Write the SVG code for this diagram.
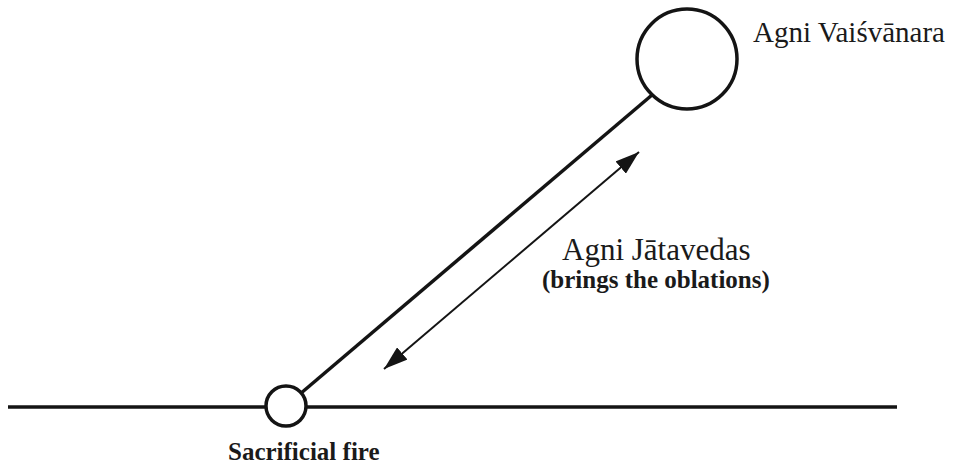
<svg xmlns="http://www.w3.org/2000/svg" width="978" height="466" viewBox="0 0 978 466">
  <style>
    .ln { stroke: #141414; fill: none; stroke-linecap: butt; }
    .node { fill: #ffffff; stroke: #141414; stroke-width: 3.5; }
    .lbl { font-family: "Liberation Serif", "Times New Roman", serif; fill: #1a1a1a; }
    .big { font-size: 29px; }
    .mid { font-size: 31px; }
    .small { font-size: 25px; font-weight: bold; }
  </style>
  <defs>
    <marker id="ah" viewBox="0 0 24 16" refX="24" refY="8" markerWidth="24" markerHeight="16" markerUnits="userSpaceOnUse" orient="auto-start-reverse">
      <path d="M0,0 L24,8 L0,16 Z" fill="#141414"/>
    </marker>
  </defs>
  <rect width="978" height="466" fill="#ffffff"/>
  <g id="connectors">
    <line class="ln" x1="8" y1="407" x2="897" y2="407" stroke-width="3.5"/>
    <line class="ln" x1="300" y1="394" x2="652" y2="95" stroke-width="3.5"/>
    <line class="ln" x1="384" y1="369" x2="639" y2="152" stroke-width="2" marker-start="url(#ah)" marker-end="url(#ah)"/>
  </g>
  <g id="sacrificial-fire">
    <circle class="node" cx="286" cy="406" r="20"/>
    <text class="lbl small" x="228" y="460">Sacrificial fire</text>
  </g>
  <g id="agni-vaisvanara">
    <circle class="node" cx="687" cy="59" r="50"/>
    <text class="lbl big" x="753" y="42">Agni Vaiśvānara</text>
  </g>
  <g id="agni-jatavedas">
    <text class="lbl mid" x="562" y="260">Agni Jātavedas</text>
    <text class="lbl small" x="542" y="288">(brings the oblations)</text>
  </g>
</svg>
